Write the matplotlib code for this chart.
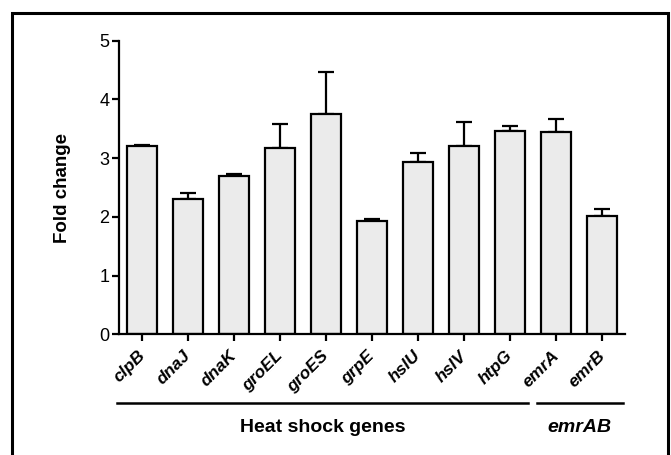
import matplotlib
matplotlib.use("Agg")
import matplotlib.pyplot as plt
import matplotlib.transforms as mtransforms
from matplotlib.patches import Rectangle

plt.rcParams['font.family'] = ['Liberation Sans', 'DejaVu Sans']

# data
genes = ['clpB', 'dnaJ', 'dnaK', 'groEL', 'groES', 'grpE', 'hslU', 'hslV', 'htpG', 'emrA', 'emrB']
fold_change = [3.21, 2.30, 2.70, 3.18, 3.75, 1.93, 2.93, 3.20, 3.46, 3.44, 2.01]
err_upper = [0.01, 0.11, 0.03, 0.41, 0.72, 0.03, 0.15, 0.41, 0.09, 0.22, 0.12]
yticks = [0, 1, 2, 3, 4, 5]

group_names = ['Heat shock genes', 'emrAB']
group_spans = [(-0.55, 8.40), (8.58, 10.45)]
group_styles = ['normal', 'italic']

fig = plt.figure(figsize=(6.71, 4.55), dpi=100)
ax = fig.add_axes([0.1773, 0.2653, 0.7541, 0.6452])

x = list(range(len(genes)))
ax.bar(x, fold_change, width=0.67, color='#ebebeb', edgecolor='black', linewidth=1.6, zorder=2)
ax.errorbar(x, fold_change, yerr=[[0] * len(genes), err_upper], fmt='none',
            ecolor='black', elinewidth=1.6, capsize=6, capthick=1.6, zorder=1)

ax.set_xlim(-0.5, 10.5)
ax.set_ylim(0, 5)
ax.set_yticks(yticks)
ax.set_yticklabels([str(v) for v in yticks], fontsize=13)
ax.set_xticks(x)
ax.set_xticklabels(genes, rotation=45, ha='right', va='top', rotation_mode='anchor',
                   fontsize=12.5, fontstyle='italic', fontweight='bold')
ax.tick_params(axis='both', direction='out', length=5, width=1.6, pad=2)
ax.tick_params(axis='x', pad=5)

# nudge the slanted labels a little to the left, like the original
shift = mtransforms.ScaledTranslation(-5 / 100, 0, fig.dpi_scale_trans)
for lbl in ax.get_xticklabels():
    lbl.set_transform(lbl.get_transform() + shift)

for s in ['top', 'right']:
    ax.spines[s].set_visible(False)
for s in ['left', 'bottom']:
    ax.spines[s].set_linewidth(1.6)

ax.set_ylabel('Fold change', fontsize=13.5, fontweight='bold', labelpad=20)

# group brackets under the tick labels
trans = mtransforms.blended_transform_factory(ax.transData, ax.transAxes)
for name, (x0, x1), style in zip(group_names, group_spans, group_styles):
    ax.plot([x0, x1], [-0.235, -0.235], color='black', lw=1.8, transform=trans, clip_on=False)
    ax.text((x0 + x1) / 2, -0.316, name, transform=trans, ha='center', va='center',
            fontsize=14, fontweight='bold', fontstyle=style)

# frame around the whole figure (open at the bottom edge)
fig.patches.append(Rectangle((0.018, -0.05), 0.977, 1.021, transform=fig.transFigure,
                             fill=False, edgecolor='black', linewidth=2.2))

fig.savefig('out.png', dpi=100)
